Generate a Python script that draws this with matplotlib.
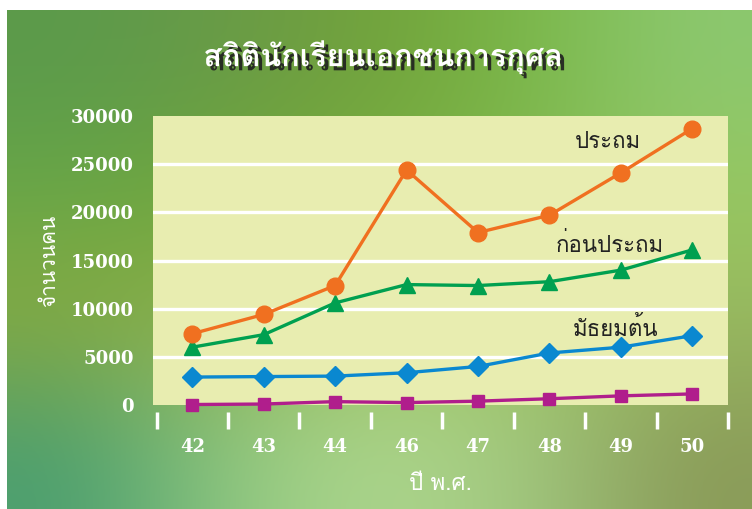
import numpy as np
import matplotlib
matplotlib.use("Agg")
import matplotlib.pyplot as plt
import matplotlib.patheffects as pe
from matplotlib import font_manager
from matplotlib.colors import to_rgb
from matplotlib.ft2font import FT2Font

# ข้อมูลจำนวนนักเรียน (อ่านค่าจากภาพ)
years = ["42", "43", "44", "46", "47", "48", "49", "50"]
primary = [7400, 9400, 12400, 24400, 17900, 19700, 24100, 28700]
pre_primary = [6000, 7300, 10600, 12500, 12400, 12800, 14000, 16100]
lower_secondary = [2900, 2950, 3000, 3350, 4000, 5400, 6000, 7200]
other = [50, 100, 350, 250, 400, 650, 950, 1150]

title = "สถิตินักเรียนเอกชนการกุศล"
xlabel = "ปี พ.ศ."
ylabel = "จำนวนคน"
yticks = [0, 5000, 10000, 15000, 20000, 25000, 30000]


def find_thai_font():
    """หาฟอนต์ที่มีอักษรไทย"""
    for f in font_manager.fontManager.ttflist:
        try:
            if 0x0E01 in FT2Font(f.fname).get_charmap():
                return f.name
        except Exception:
            pass
    return "DejaVu Sans"


thai_font = find_thai_font()
num_font = "DejaVu Serif"

fig = plt.figure(figsize=(7.52, 5.09), dpi=100, facecolor="white")

# พื้นหลังไล่สีเขียว
bg_colors = [
    ["#5b9a4b", "#6a9a48", "#72a23a", "#7ab848", "#8cc870"],
    ["#68a848", "#70a838", "#7ab040", "#80b850", "#98c860"],
    ["#8aaa40", "#90b050", "#9cc060", "#a0c860", "#98b860"],
    ["#4a9e70", "#90c880", "#b0d890", "#a0c880", "#8a9a58"],
]
bg = np.array([[to_rgb(c) for c in row] for row in bg_colors])
ax_bg = fig.add_axes([7 / 752, 0, 745 / 752, 499 / 509], zorder=-1)
ax_bg.imshow(bg, aspect="auto", interpolation="bicubic", extent=[0, 1, 0, 1])
ax_bg.set_axis_off()

ax = fig.add_axes([153 / 752, 104 / 509, 575 / 752, 289 / 509])
ax.set_facecolor("#e8edb0")
x = np.arange(len(years))

ax.plot(x, other, color="#b01e8c", lw=2.4, marker="s", ms=9, clip_on=False, zorder=3)
ax.plot(x, lower_secondary, color="#0a88d0", lw=2.4, marker="D", ms=10, clip_on=False, zorder=3)
ax.plot(x, pre_primary, color="#00a050", lw=2.4, marker="^", ms=11, clip_on=False, zorder=3)
ax.plot(x, primary, color="#f07020", lw=2.4, marker="o", ms=12, clip_on=False, zorder=3)

ax.set_xlim(-0.55, 7.5)
ax.set_ylim(0, 30000)
for v in yticks[1:-1]:
    ax.axhline(v, color="white", lw=2.4, zorder=1)

for s in ["top", "right", "left"]:
    ax.spines[s].set_visible(False)
ax.spines["bottom"].set_position(("outward", 5))
ax.spines["bottom"].set_color("none")

ax.set_xticks(x)
ax.set_xticklabels(years)
ax.set_xticks(np.arange(-0.5, len(years)), minor=True)
ax.tick_params(axis="x", which="major", length=0, pad=19)
ax.tick_params(axis="x", which="minor", length=12, width=2.5, color="white", direction="out")
ax.set_yticks(yticks)
ax.set_yticklabels([str(v) for v in yticks])
ax.tick_params(axis="y", length=0, pad=14)
for lab in ax.get_xticklabels() + ax.get_yticklabels():
    lab.set_fontfamily(num_font)
    lab.set_fontweight("bold")
    lab.set_fontsize(13)
    lab.set_color("white")

ax.text(5.82, 27200, "ประถม", fontsize=16, color="#222222", ha="center", va="center",
        family=thai_font)
ax.text(5.85, 16650, "ก่อนประถม", fontsize=16, color="#222222", ha="center", va="center",
        family=thai_font)
ax.text(5.92, 7900, "มัธยมต้น", fontsize=16, color="#222222", ha="center", va="center",
        family=thai_font)

ax.set_xlabel(xlabel, fontsize=16, color="white", family=thai_font, labelpad=13)
ax.set_ylabel(ylabel, fontsize=15, color="white", family=thai_font, labelpad=8)

fig.text(383 / 752, 1 - 57 / 509, title, fontsize=22, fontweight="bold", color="white",
         ha="center", va="center", family=thai_font,
         path_effects=[pe.SimplePatchShadow(offset=(3, -3), shadow_rgbFace="#202020", alpha=0.9),
                       pe.Normal()])

fig.savefig("out.png", dpi=100, facecolor=fig.get_facecolor())
